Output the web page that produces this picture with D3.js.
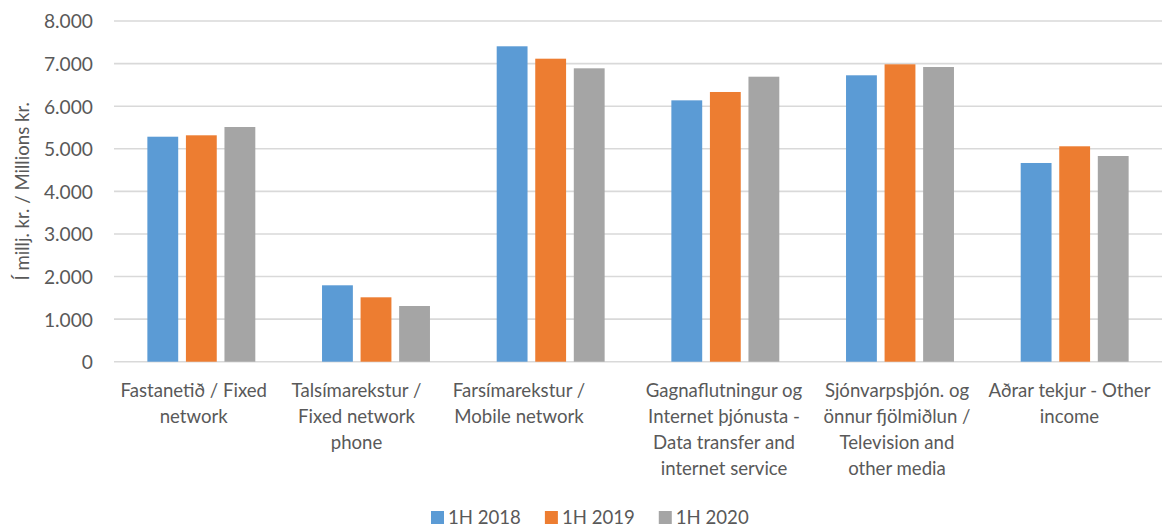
<!DOCTYPE html>
<html>
<head>
<meta charset="utf-8">
<script src="https://cdn.jsdelivr.net/npm/d3@7"></script>
<style>
  html, body { margin: 0; padding: 0; background: #ffffff; }
  svg { display: block; }
  text { font-family: Lato, "Open Sans", sans-serif; fill: #595959; }
</style>
</head>
<body>
<svg id="chart" width="1169" height="528"></svg>
<script>
// Revenue by service line, millions ISK
const categories = [
  "Fastanetið / Fixed network",
  "Talsímarekstur / Fixed network phone",
  "Farsímarekstur / Mobile network",
  "Gagnaflutningur og Internet þjónusta - Data transfer and internet service",
  "Sjónvarpsþjón. og önnur fjölmiðlun / Television and other media",
  "Aðrar tekjur - Other income"
];
const categoryLines = [
  ["Fastanetið / Fixed", "network"],
  ["Talsímarekstur /", "Fixed network", "phone"],
  ["Farsímarekstur /", "Mobile network"],
  ["Gagnaflutningur og", "Internet þjónusta -", "Data transfer and", "internet service"],
  ["Sjónvarpsþjón. og", "önnur fjölmiðlun /", "Television and", "other media"],
  ["Aðrar tekjur - Other", "income"]
];
const seriesNames = ["1H 2018", "1H 2019", "1H 2020"];
const values2018 = [5283, 1794, 7406, 6137, 6725, 4666];
const values2019 = [5316, 1512, 7115, 6333, 6983, 5058];
const values2020 = [5511, 1308, 6889, 6692, 6920, 4830];
const yTicks = [0, 1000, 2000, 3000, 4000, 5000, 6000, 7000, 8000];
const yTitle = "Í millj. kr. / Millions kr.";

const seriesValues = [values2018, values2019, values2020];
const colors = ["#5b9bd5", "#ed7d31", "#a5a5a5"];

const svg = d3.select("#chart");
const plot = { left: 114, right: 1162, top: 21, bottom: 361.7 };
const fontSize = 18.6;

const locale = d3.formatLocale({ decimal: ",", thousands: ".", grouping: [3], currency: ["", ""] });
const fmt = locale.format(",");

const x0 = d3.scaleBand()
  .domain(categories)
  .range([plot.left, plot.right])
  .paddingInner(0.382)
  .paddingOuter(0.191);

const x1 = d3.scaleBand()
  .domain(seriesNames)
  .range([0, x0.bandwidth()])
  .paddingInner(0.2);

const y = d3.scaleLinear()
  .domain([0, 8000])
  .range([plot.bottom, plot.top]);

// Horizontal gridlines
svg.append("g")
  .selectAll("line")
  .data(yTicks)
  .join("line")
  .attr("x1", plot.left)
  .attr("x2", plot.right)
  .attr("y1", d => y(d))
  .attr("y2", d => y(d))
  .attr("stroke", "#d9d9d9")
  .attr("stroke-width", 1.6);

// Y axis tick labels
const yAxis = d3.axisLeft(y).tickValues(yTicks).tickFormat(fmt).tickSize(0).tickPadding(0);
const gy = svg.append("g")
  .attr("transform", `translate(${plot.left - 21},0)`)
  .call(yAxis);
gy.select(".domain").remove();
gy.selectAll("text")
  .attr("font-size", fontSize + 0.6)
  .attr("font-family", "Lato, 'Open Sans', sans-serif")
  .attr("fill", "#595959")
  .attr("dy", "0.36em");

// Bars
const rows = categories.map((c, i) => ({
  category: c,
  items: seriesNames.map((s, j) => ({ series: s, value: seriesValues[j][i], color: colors[j] }))
}));

svg.append("g")
  .selectAll("g")
  .data(rows)
  .join("g")
  .attr("transform", d => `translate(${x0(d.category)},0)`)
  .selectAll("rect")
  .data(d => d.items)
  .join("rect")
  .attr("x", d => x1(d.series))
  .attr("width", x1.bandwidth())
  .attr("y", d => y(d.value))
  .attr("height", d => y(0) - y(d.value))
  .attr("fill", d => d.color);

// Category labels, wrapped over several lines
const labelDx = [-7.6, -19.5, -31.7, -1.3, -3, -5.2];
const lineHeight = 26;
const labels = svg.append("g")
  .selectAll("text")
  .data(categories)
  .join("text")
  .attr("text-anchor", "middle")
  .attr("font-size", fontSize)
  .attr("transform", (d, i) => `translate(${x0(d) + x0.bandwidth() / 2 + labelDx[i]},396.7)`);
labels.selectAll("tspan")
  .data((d, i) => categoryLines[i])
  .join("tspan")
  .attr("x", 0)
  .attr("y", (d, i) => i * lineHeight)
  .text(d => d);

// Y axis title
svg.append("text")
  .attr("transform", `translate(29,${(plot.top + plot.bottom) / 2}) rotate(-90)`)
  .attr("text-anchor", "middle")
  .attr("font-size", fontSize)
  .text(yTitle);

// Legend
const legend = svg.append("g");
const entries = legend.selectAll("g")
  .data(seriesNames)
  .join("g");
entries.append("rect")
  .attr("width", 13)
  .attr("height", 13)
  .attr("y", 511)
  .attr("fill", (d, i) => colors[i]);
entries.append("text")
  .attr("x", 17)
  .attr("y", 524)
  .attr("font-size", fontSize)
  .text(d => d);
const widths = [];
entries.each(function () {
  widths.push(d3.select(this).select("text").node().getComputedTextLength());
});
const gap = 24;
let cursor = 431;
entries.attr("transform", (d, i) => {
  const xPos = cursor;
  cursor += 17 + widths[i] + gap;
  return `translate(${xPos},0)`;
});
</script>
</body>
</html>
